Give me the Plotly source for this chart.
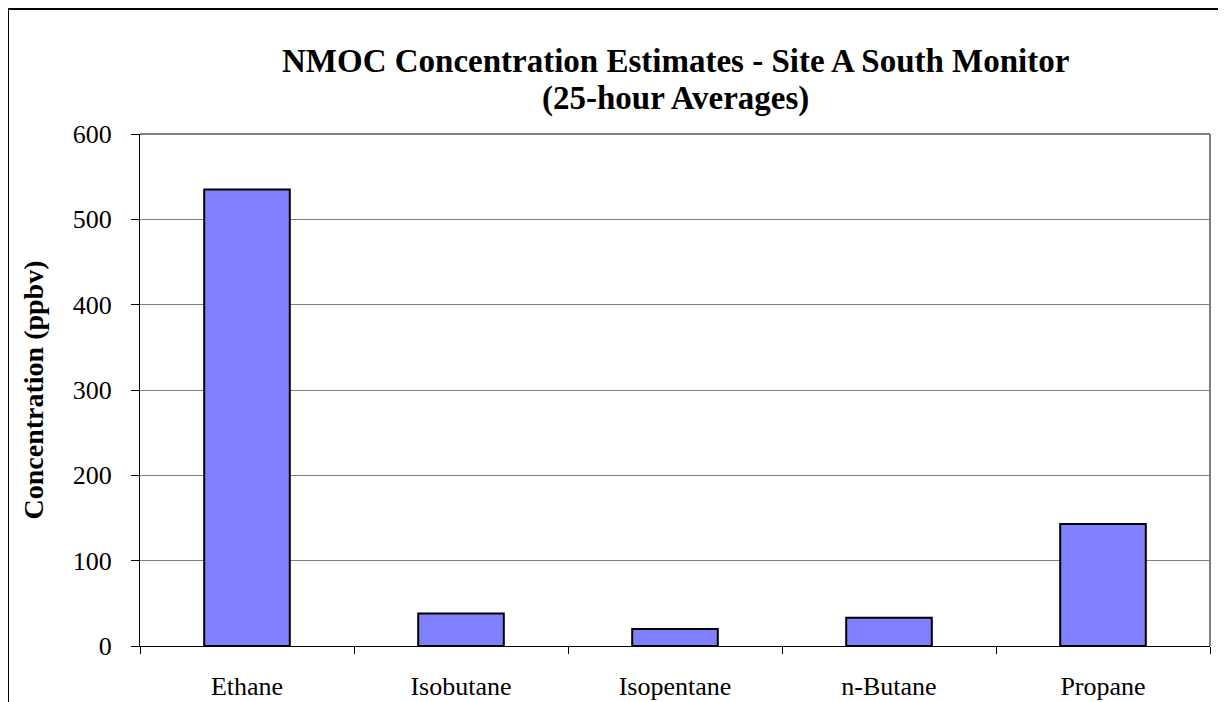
import plotly.graph_objects as go

categories = ["Ethane", "Isobutane", "Isopentane", "n-Butane", "Propane"]
concentration = [535, 38, 20, 33, 143]
y_ticks = [0, 100, 200, 300, 400, 500, 600]
title_lines = ["NMOC Concentration Estimates - Site A South Monitor", "(25-hour Averages)"]

W, H = 1218, 694
L, T, R, B = 132, 126, 16, 56
PW, PH = W - L - R, H - T - B
FONT = "Liberation Serif, Times New Roman, serif"

fig = go.Figure()
fig.add_trace(go.Bar(
    x=categories, y=concentration,
    marker=dict(color="#8080FF", line=dict(color="black", width=2)),
    width=0.4,
))

title_y_px = [53, 90]
annotations = [
    dict(text="<b>%s</b>" % txt, xref="paper", yref="paper", x=0.5, xanchor="center",
         y=1 + (T - ypx) / PH, yanchor="middle", showarrow=False,
         font=dict(size=33, family=FONT, color="black"))
    for txt, ypx in zip(title_lines, title_y_px)
]

fig.update_layout(
    width=W, height=H,
    margin=dict(l=L, r=R, t=T, b=B, autoexpand=False),
    paper_bgcolor="white", plot_bgcolor="white",
    font=dict(family=FONT, color="black"),
    showlegend=False,
    annotations=annotations,
    xaxis=dict(
        type="category", showgrid=False, showline=True, linecolor="black", linewidth=1,
        ticks="outside", tickson="boundaries", ticklen=7, tickcolor="black",
        tickfont=dict(size=26), range=[-0.5, 4.5], ticklabelstandoff=17,
    ),
    yaxis=dict(
        range=[0, 600], tickvals=y_ticks, showgrid=True, gridcolor="#808080", gridwidth=1,
        showline=True, linecolor="black", linewidth=1, ticks="outside", ticklen=8,
        tickcolor="black", tickfont=dict(size=26), zeroline=False, ticklabelstandoff=14,
        title=dict(text="<b>Concentration (ppbv)</b>", font=dict(size=28), standoff=20),
    ),
    shapes=[
        dict(type="line", xref="paper", yref="paper", x0=0, x1=1, y0=1, y1=1,
             line=dict(color="#808080", width=2)),
        dict(type="line", xref="paper", yref="paper", x0=1, x1=1, y0=0, y1=1,
             line=dict(color="#808080", width=2)),
        dict(type="rect", xref="paper", yref="paper",
             x0=(0 - L) / PW, x1=1.2, y0=-0.3, y1=1 + (T - 1) / PH,
             line=dict(color="black", width=2), layer="below"),
    ],
)

fig.write_html("out.html")
